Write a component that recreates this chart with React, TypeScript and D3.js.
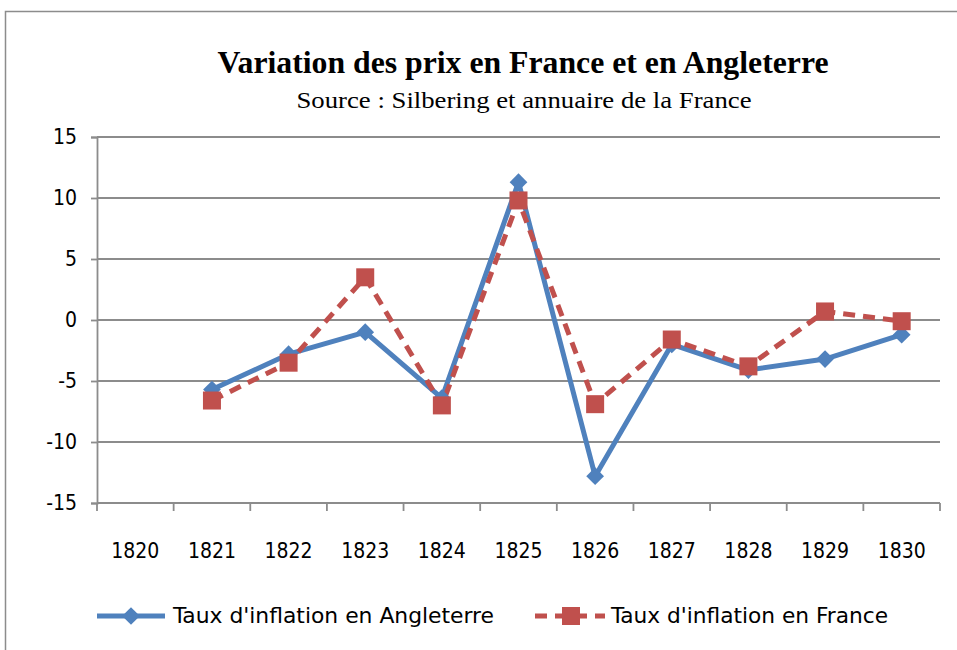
import { useRef, useEffect } from 'react';
import * as d3 from 'd3';

const years = ['1820', '1821', '1822', '1823', '1824', '1825', '1826', '1827', '1828', '1829', '1830'];
const angleterre: (number | null)[] = [null, -5.7, -2.8, -1.0, -6.4, 11.3, -12.8, -2.0, -4.1, -3.2, -1.2];
const france: (number | null)[] = [null, -6.6, -3.5, 3.5, -7.0, 9.8, -6.9, -1.6, -3.8, 0.7, -0.1];
const yTicks = [-15, -10, -5, 0, 5, 10, 15];

const BLUE = '#4F81BD';
const RED = '#C0504D';
const LABEL_FONT = '"Liberation Sans Narrow", "DejaVu Sans Condensed", Lato, sans-serif';

export default function App() {
  const svgRef = useRef<SVGSVGElement>(null);

  useEffect(() => {
    if (!svgRef.current) return;
    const W = 957, H = 650;
    const margin = { top: 137, right: 17, bottom: 147, left: 97 };
    const width = W - margin.left - margin.right;
    const height = H - margin.top - margin.bottom;

    const svg = d3.select(svgRef.current);
    svg.selectAll('*').remove();

    // frame
    svg.append('rect').attr('x', 5.5).attr('y', 11.5).attr('width', 970).attr('height', 660)
      .attr('fill', 'white').attr('stroke', '#8c8c8c').attr('stroke-width', 1.5);

    svg.append('text').attr('x', 523).attr('y', 73).attr('text-anchor', 'middle')
      .attr('font-family', '"Liberation Serif", "Times New Roman", serif').attr('font-weight', 700)
      .attr('font-size', 31).attr('textLength', 611).attr('lengthAdjust', 'spacingAndGlyphs')
      .text('Variation des prix en France et en Angleterre');
    svg.append('text').attr('x', 524).attr('y', 108).attr('text-anchor', 'middle')
      .attr('font-family', '"Liberation Serif", "Times New Roman", serif')
      .attr('font-size', 23).attr('textLength', 455).attr('lengthAdjust', 'spacingAndGlyphs')
      .text('Source : Silbering  et annuaire de la France');

    const g = svg.append('g').attr('transform', `translate(${margin.left},${margin.top})`);
    const x = d3.scaleBand().domain(years).range([0, width]);
    const y = d3.scaleLinear().domain([-15, 15]).range([height, 0]);

    // grid
    g.append('g').selectAll('line').data(yTicks).join('line')
      .attr('x1', 0).attr('x2', width)
      .attr('y1', d => y(d)).attr('y2', d => y(d))
      .attr('stroke', '#8c8c8c').attr('stroke-width', 1.8);

    // y axis
    const yAxis = g.append('g').call(d3.axisLeft(y).tickValues(yTicks).tickSize(6).tickPadding(14).tickFormat(d => String(d)));
    yAxis.select('.domain').attr('stroke', '#8c8c8c').attr('stroke-width', 1.8);
    yAxis.selectAll('.tick line').attr('stroke', '#8c8c8c').attr('stroke-width', 1.8);
    yAxis.selectAll('text').attr('font-family', LABEL_FONT).attr('font-size', 21).attr('fill', '#000');

    // x axis: ticks at category boundaries
    const xAxis = g.append('g').attr('transform', `translate(0,${height})`);
    xAxis.append('line').attr('x1', 0).attr('x2', width).attr('stroke', '#8c8c8c').attr('stroke-width', 1.8);
    const bounds = d3.range(years.length + 1).map(i => i * x.step());
    xAxis.selectAll('line.tk').data(bounds).join('line').attr('class', 'tk')
      .attr('x1', d => d).attr('x2', d => d).attr('y1', 0).attr('y2', 8)
      .attr('stroke', '#8c8c8c').attr('stroke-width', 1.8);
    xAxis.selectAll('text').data(years).join('text')
      .attr('x', d => x(d)! + x.bandwidth() / 2).attr('y', 55)
      .attr('text-anchor', 'middle').attr('font-family', LABEL_FONT).attr('font-size', 21)
      .text(d => d);

    const cx = (i: number) => x(years[i])! + x.bandwidth() / 2;
    const line = d3.line<number | null>()
      .defined(d => d !== null)
      .x((_, i) => cx(i))
      .y(d => y(d as number));

    g.append('path').datum(angleterre).attr('d', line).attr('fill', 'none')
      .attr('stroke', BLUE).attr('stroke-width', 5).attr('stroke-linejoin', 'round');
    g.append('path').datum(france).attr('d', line).attr('fill', 'none')
      .attr('stroke', RED).attr('stroke-width', 5).attr('stroke-dasharray', '12,8');

    const diamond = d3.symbol().type(d3.symbolDiamond2).size(200);
    g.selectAll('path.dia').data(angleterre.map((v, i) => ({ v, i })).filter(d => d.v !== null))
      .join('path').attr('class', 'dia').attr('d', diamond)
      .attr('transform', d => `translate(${cx(d.i)},${y(d.v as number)})`).attr('fill', BLUE);
    g.selectAll('rect.sq').data(france.map((v, i) => ({ v, i })).filter(d => d.v !== null))
      .join('rect').attr('class', 'sq')
      .attr('x', d => cx(d.i) - 9).attr('y', d => y(d.v as number) - 9)
      .attr('width', 18).attr('height', 18).attr('fill', RED);

    // legend
    const lg = svg.append('g').attr('transform', 'translate(0,616)');
    lg.append('line').attr('x1', 97).attr('x2', 165).attr('stroke', BLUE).attr('stroke-width', 5);
    lg.append('path').attr('d', diamond).attr('transform', 'translate(131,0)').attr('fill', BLUE);
    lg.append('text').attr('x', 173).attr('y', 7).attr('font-family', LABEL_FONT).attr('font-size', 21)
      .attr('textLength', 321).attr('lengthAdjust', 'spacingAndGlyphs')
      .text("Taux d'inflation  en Angleterre");
    lg.append('line').attr('x1', 535).attr('x2', 605).attr('stroke', RED).attr('stroke-width', 5)
      .attr('stroke-dasharray', '12,8');
    lg.append('rect').attr('x', 562).attr('y', -9).attr('width', 18).attr('height', 18).attr('fill', RED);
    lg.append('text').attr('x', 611).attr('y', 7).attr('font-family', LABEL_FONT).attr('font-size', 21)
      .attr('textLength', 277).attr('lengthAdjust', 'spacingAndGlyphs')
      .text("Taux d'inflation  en France");
  }, []);

  return (
    <div style={{ position: 'fixed', left: 0, top: 0 }}>
      <svg ref={svgRef} width={957} height={650} style={{ display: 'block' }} />
    </div>
  );
}
